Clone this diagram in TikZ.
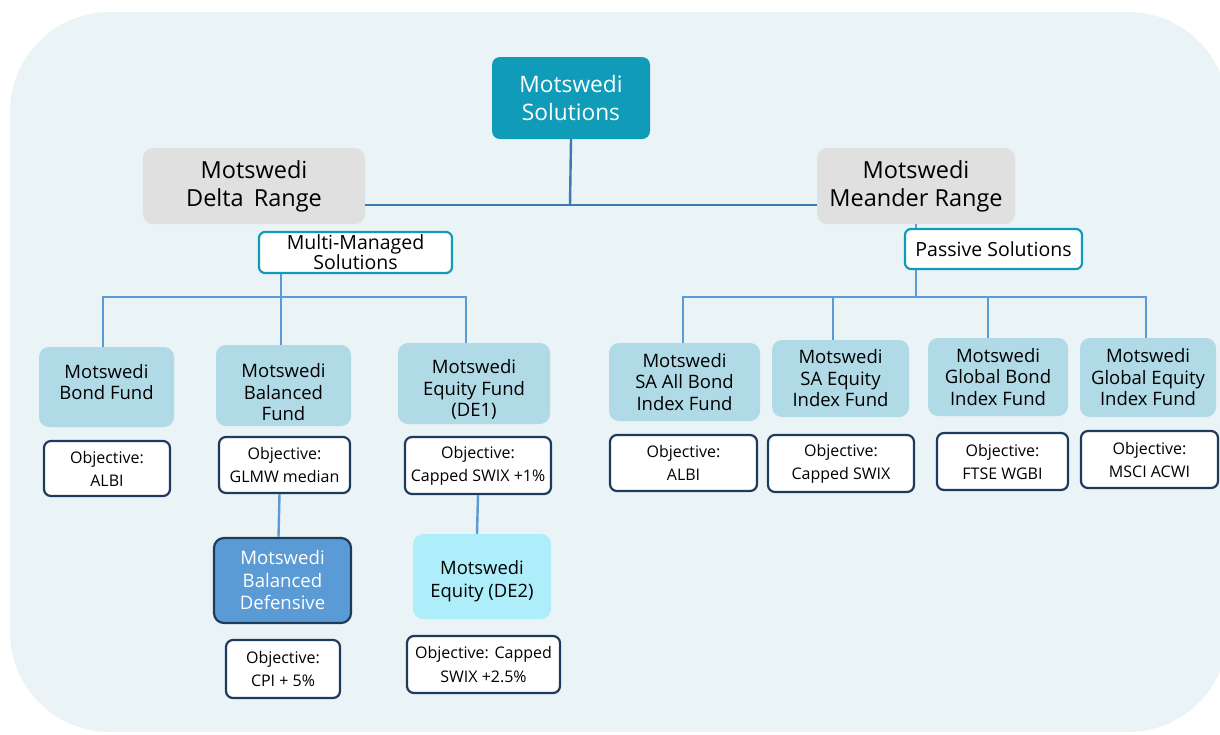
\documentclass[tikz,border=0pt]{standalone}
\usepackage{fontspec}
\setmainfont{Open Sans}
\definecolor{panelbg}{RGB}{234, 243, 246}
\definecolor{rootteal}{RGB}{16, 156, 185}
\definecolor{rangegrey}{RGB}{224, 224, 224}
\definecolor{trunkblue}{RGB}{61, 122, 181}
\definecolor{branchblue}{RGB}{91, 155, 213}
\definecolor{fundblue}{RGB}{176, 218, 230}
\definecolor{objnavy}{RGB}{31, 59, 92}
\definecolor{defblue}{RGB}{91, 155, 213}
\definecolor{de2cyan}{RGB}{173, 238, 250}
\usetikzlibrary{positioning, calc}
\newcommand{\lowerby}[1]{\rule{0pt}{#1}}

\begin{document}
\begin{tikzpicture}[x=1pt, y=-1pt,
  rootbox/.style={fill=rootteal, text=white, rounded corners=8pt, align=center,
                  font=\fontsize{22.7}{28}\selectfont},
  rangebox/.style={fill=rangegrey, rounded corners=10pt, align=center,
                   font=\fontsize{23.5}{28}\selectfont},
  groupbox/.style={draw=rootteal, line width=2.2pt, fill=white, rounded corners=6pt,
                   align=center, font=\fontsize{19.5}{20}\selectfont},
  fundbox/.style={fill=fundblue, rounded corners=10pt, align=center,
                  font=\fontsize{18.5}{21.5}\selectfont},
  objbox/.style={draw=objnavy, line width=2.2pt, fill=white, rounded corners=7pt,
                 align=center, inner sep=2pt, font=\fontsize{16}{23}\selectfont},
  textup/.style={execute at end node={\rule[-#1]{0pt}{#1}}},
  trunk/.style={draw=trunkblue, line width=2.4pt},
  branch/.style={draw=branchblue, line width=2.4pt},
]
\useasboundingbox (0,0) rectangle (1220,734);
\fill[panelbg, rounded corners=100pt] (10,12) rectangle (1228,732);

% Top level
\node[rootbox, minimum width=158pt, minimum height=82pt] (root) at (571,98) {Motswedi\\Solutions};
\node[rangebox, minimum width=222pt, minimum height=76pt] (delta) at (254,186) {Motswedi\\Delta\, Range};
\node[rangebox, minimum width=198pt, minimum height=76pt] (meander) at (916,186) {Motswedi\\Meander Range};

\coordinate (hub) at (570,205);
\draw[trunk] (root.south) -- (hub);
\draw[trunk] (delta.east |- hub) -- (meander.west |- hub);

% Delta range
\node[groupbox, minimum width=193pt, minimum height=41pt, inner sep=1pt] (multi) at (355.5,252.5) {Multi-Managed\\Solutions};

\node[fundbox, textup=10pt, minimum width=135pt, minimum height=80pt] (bond) at (106.5,387) {Motswedi\\Bond Fund};
\node[fundbox, minimum width=135pt, minimum height=81pt] (balanced) at (283.5,385.5) {\lowerby{28pt}Motswedi\\Balanced\\Fund};
\node[fundbox, minimum width=152pt, minimum height=81pt] (equity1) at (474,383.5) {\lowerby{26pt}Motswedi\\Equity Fund\\(DE1)};

\coordinate (dbus) at (281,297);
\draw[branch] (balanced.north -| dbus) -- (multi.south -| dbus);
\draw[branch] (bond.north -| 103,0) |- (dbus) -| ([xshift=-8pt]equity1.north);

\node[objbox, minimum width=126pt, minimum height=55pt] (objalbi) at (107,468.5) {Objective:\\ALBI};
\node[objbox, minimum width=131pt, minimum height=56pt] (objglmw) at (284.5,465) {Objective:\\GLMW median};
\node[objbox, minimum width=146pt, minimum height=57pt] (objswix1) at (478,465.5) {Objective:\\Capped SWIX +1\%};

\node[draw=objnavy, line width=2.2pt, fill=defblue, text=white, rounded corners=10pt, align=center,
      font=\fontsize{18.6}{22.5}\selectfont, minimum width=137pt, minimum height=85pt] (defensive) at (282.5,580.5) {Motswedi\\Balanced\\Defensive};
\node[fill=de2cyan, rounded corners=10pt, align=center, font=\fontsize{18.4}{23}\selectfont,
      minimum width=138pt, minimum height=85pt] (equity2) at (482,576.5) {\lowerby{23pt}Motswedi\\Equity (DE2)};

\draw[branch] ([xshift=-5pt]objglmw.south) -- ([xshift=-4pt]defensive.north);
\draw[branch] (objswix1.south) -- ([xshift=-5pt]equity2.north);

\node[objbox, minimum width=114pt, minimum height=58pt] (objcpi) at (283,669) {Objective:\\CPI + 5\%};
\node[objbox, minimum width=153pt, minimum height=57pt, font=\fontsize{16}{24}\selectfont] (objswix2) at (483.5,664.5) {Objective: Capped\\SWIX +2.5\%};

% Meander range
\node[groupbox, minimum width=177pt, minimum height=40pt] (passive) at (993.5,249) {Passive Solutions};

\node[fundbox, minimum width=151pt, minimum height=78pt] (sabond) at (684.5,382) {Motswedi\\SA All Bond\\Index Fund};
\node[fundbox, minimum width=137pt, minimum height=77pt] (saequity) at (840.5,378.5) {Motswedi\\SA Equity\\Index Fund};
\node[fundbox, minimum width=140pt, minimum height=78pt] (glbond) at (998,377) {Motswedi\\Global Bond\\Index Fund};
\node[fundbox, minimum width=136pt, minimum height=79pt] (glequity) at (1148,377.5) {Motswedi\\Global Equity\\Index Fund};

\coordinate (pbus) at (916,297);
\draw[branch] (meander.south) -- (passive.north -| meander.south);
\draw[branch] (passive.south -| pbus) -- (pbus);
\draw[branch] ([xshift=-1.5pt]sabond.north) |- (pbus) -| ([xshift=-2pt]glequity.north);
\draw[branch] ([xshift=-7.5pt]saequity.north) -- ([xshift=-7.5pt]saequity.north |- pbus);
\draw[branch] ([xshift=-10pt]glbond.north) -- ([xshift=-10pt]glbond.north |- pbus);

\node[objbox, minimum width=147pt, minimum height=56pt] (objalbi2) at (683.5,463) {Objective:\\ALBI};
\node[objbox, minimum width=146pt, minimum height=57pt] (objswix3) at (841,463.5) {Objective:\\Capped SWIX};
\node[objbox, minimum width=131pt, minimum height=57pt] (objftse) at (1002.5,461.5) {Objective:\\FTSE WGBI};
\node[objbox, minimum width=137pt, minimum height=57pt] (objmsci) at (1149.5,459.5) {Objective:\\MSCI ACWI};
\end{tikzpicture}
\end{document}
